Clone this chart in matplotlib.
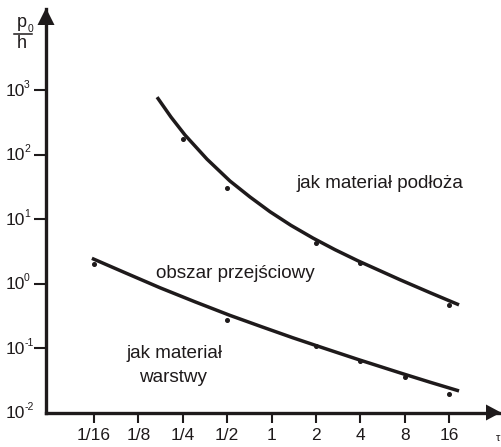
import matplotlib
matplotlib.use("Agg")
import matplotlib.pyplot as plt
from matplotlib.patches import Polygon
from matplotlib.lines import Line2D

# ---------------- data ----------------
x_ticks = [1/16, 1/8, 1/4, 1/2, 1, 2, 4, 8, 16]
x_tick_labels = ["1/16", "1/8", "1/4", "1/2", "1", "2", "4", "8", "16"]
y_ticks = [1e-2, 1e-1, 1e0, 1e1, 1e2, 1e3]
y_tick_exps = ["-2", "-1", "0", "1", "2", "3"]

upper_points_x = [0.25, 0.5, 2, 4, 16]
upper_points_y = [175, 30, 4.2, 2.1, 0.46]
upper_curve_x = [0.1673, 0.2079, 0.2588, 0.3648, 0.5222, 0.714, 0.9753, 1.354,
                 1.908, 2.691, 3.853, 7.42, 11.86, 18.65]
upper_curve_y = [778, 382, 201, 84.9, 38.9, 22.0, 13.0, 7.98, 5.07, 3.35, 2.25,
                 1.146, 0.722, 0.467]

lower_points_x = [1/16, 1/2, 2, 4, 8, 16]
lower_points_y = [2.0, 0.27, 0.106, 0.064, 0.035, 0.0197]
lower_curve_x = [0.0605, 0.1031, 0.175, 0.3023, 0.5222, 0.861, 1.397, 2.302,
                 3.853, 7.42, 11.86, 18.65]
lower_curve_y = [2.46, 1.449, 0.861, 0.521, 0.3208, 0.2128, 0.1439, 0.0982,
                 0.0665, 0.0412, 0.0295, 0.0216]

# ---------------- style ----------------
plt.rcParams["font.family"] = ["Liberation Sans", "DejaVu Sans"]
INK = "#1e1a1b"
W, H = 501, 447
fig = plt.figure(figsize=(W / 100, H / 100), dpi=100)

def fx(px):
    return px / W

def fy(py):
    return (H - py) / H

ax_left, ax_right = 46, 500
ax_bottom, ax_top = 412.5, 9
ax = fig.add_axes([fx(ax_left), fy(ax_bottom), (ax_right - ax_left) / W,
                   (ax_bottom - ax_top) / H])
ax.set_xscale("log", base=2)
ax.set_yscale("log")
ax.set_xlim(2 ** -5.081, 2 ** 5.144)
ax.set_ylim(1e-2, 10 ** 4.258)
ax.patch.set_visible(False)

for s in ("top", "right"):
    ax.spines[s].set_visible(False)
for s in ("left", "bottom"):
    ax.spines[s].set_linewidth(2.4)
    ax.spines[s].set_color(INK)
    ax.spines[s].set_capstyle("projecting")

ax.set_xticks(x_ticks)
ax.set_xticklabels(x_tick_labels)
ax.minorticks_off()
ax.tick_params(axis="x", which="major", direction="out", length=7, width=1.5,
               color=INK, labelcolor=INK, labelsize=12.5, pad=4)
ax.set_yticks(y_ticks[1:])
ax.set_yticklabels([])
ax.tick_params(axis="y", which="major", direction="out", length=9, width=1.5,
               color=INK)

# y tick labels: "10" with a small raised exponent
for v, e in zip(y_ticks, y_tick_exps):
    ax.annotate("10", xy=(0, v), xycoords=("axes fraction", "data"),
                xytext=(-15, -1), textcoords="offset points",
                ha="right", va="center", fontsize=12.5, color=INK)
    ax.annotate(e, xy=(0, v), xycoords=("axes fraction", "data"),
                xytext=(-15.8, 3.8), textcoords="offset points",
                ha="left", va="center", fontsize=7.5, color=INK)

# curves and points
for cx, cy in ((upper_curve_x, upper_curve_y), (lower_curve_x, lower_curve_y)):
    ax.plot(cx, cy, color=INK, lw=2.5, solid_capstyle="butt",
            solid_joinstyle="round")
ax.plot(upper_points_x, upper_points_y, ls="none", marker="o", ms=2.6, color=INK)
ax.plot(lower_points_x, lower_points_y, ls="none", marker="o", ms=2.6, color=INK)

# arrow heads
fig.add_artist(Polygon([(fx(46), fy(8)), (fx(37.5), fy(25)), (fx(54.5), fy(25))],
                       closed=True, transform=fig.transFigure, color=INK, lw=0))
fig.add_artist(Polygon([(fx(501), fy(412.5)), (fx(486), fy(404.5)), (fx(486), fy(420.5))],
                       closed=True, transform=fig.transFigure, color=INK, lw=0))

# y-axis quantity label p0/h
fig.text(fx(22), fy(27), "p", ha="center", va="baseline", fontsize=13, color=INK)
fig.text(fx(30), fy(32), "0", ha="center", va="baseline", fontsize=7.5, color=INK)
fig.add_artist(Line2D([fx(14), fx(32)], [fy(33.5), fy(33.5)], transform=fig.transFigure,
                      color=INK, lw=1.1))
fig.text(fx(22), fy(48), "h", ha="center", va="baseline", fontsize=13, color=INK)

# x-axis quantity label, mostly cut off at the right edge in the reference
fig.text(fx(500.5), fy(441), "\u03c4", ha="right", va="baseline", fontsize=8, color=INK)

# region labels
fig.text(fx(380), fy(188), "jak materiał podłoża", ha="center", va="baseline",
         fontsize=13.6, color=INK)
fig.text(fx(235), fy(278), "obszar przejściowy", ha="center", va="baseline",
         fontsize=13.6, color=INK)
fig.text(fx(174), fy(358), "jak materiał", ha="center", va="baseline",
         fontsize=13.6, color=INK)
fig.text(fx(173), fy(382), "warstwy", ha="center", va="baseline",
         fontsize=13.6, color=INK)

fig.savefig("out.png", dpi=100)
